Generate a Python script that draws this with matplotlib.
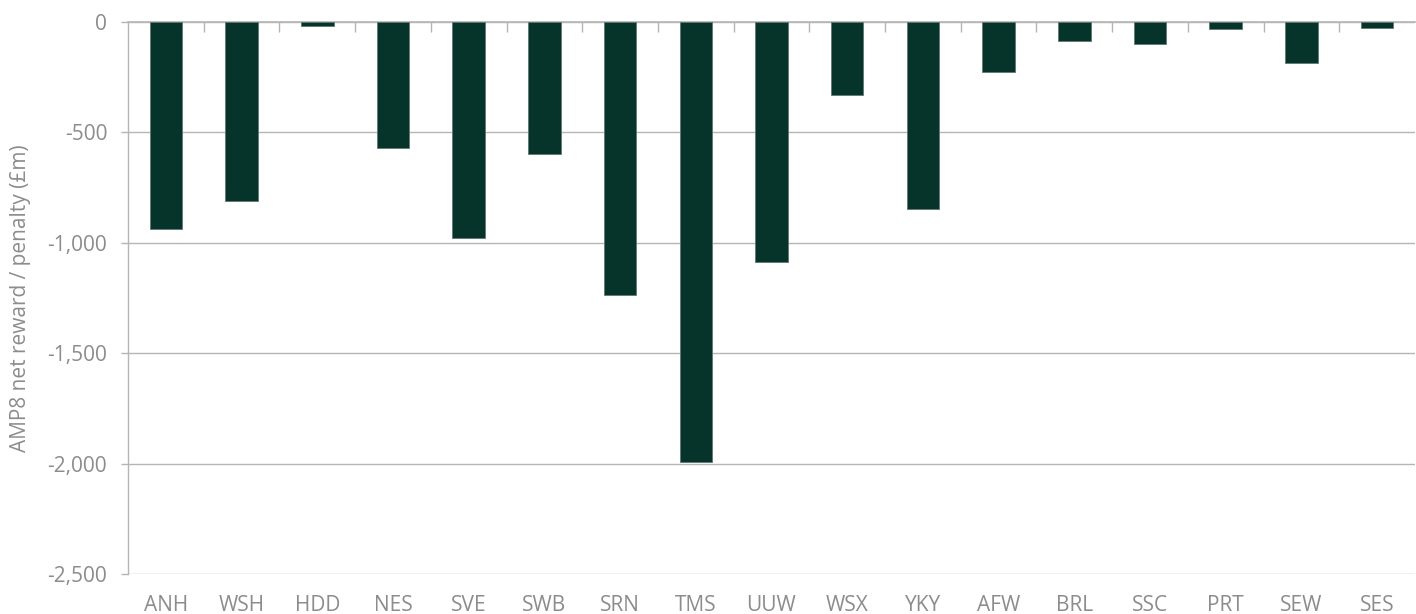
import matplotlib
matplotlib.use("Agg")
import matplotlib.pyplot as plt
from matplotlib.ticker import FuncFormatter, MultipleLocator, FixedLocator
import numpy as np

companies = ["ANH", "WSH", "HDD", "NES", "SVE", "SWB", "SRN", "TMS", "UUW",
             "WSX", "YKY", "AFW", "BRL", "SSC", "PRT", "SEW", "SES"]
net_reward = [-936, -812, -18, -571, -980, -598, -1238, -1995, -1087,
              -331, -847, -225, -85, -100, -30, -186, -27]

plt.rcParams['font.family'] = ['Open Sans', 'DejaVu Sans']
text_col = "#8c8c8c"
grid_col = "#b5b5b5"
bar_col = "#06332a"

fig = plt.figure(figsize=(14.16, 6.14), dpi=100)
ax = fig.add_axes([128/1416, 1-574/614, (1415-128)/1416, (574-22)/614])

x = np.arange(len(companies))
ax.bar(x, net_reward, width=0.43, color=bar_col, edgecolor="#5f7a72", linewidth=0.6, zorder=3)

ax.set_ylim(-2500, 0)
ax.set_xlim(-0.5, len(companies) - 0.5)
ax.yaxis.set_major_locator(MultipleLocator(500))
ax.yaxis.set_major_formatter(FuncFormatter(lambda v, p: f"{int(v):,}"))
ax.grid(axis='y', color=grid_col, linewidth=1.0, zorder=0)

ax.set_xticks(x)
ax.set_xticklabels(companies)
ax.xaxis.set_minor_locator(FixedLocator(np.arange(0.5, len(companies) - 0.5, 1)))
ax.tick_params(axis='x', which='major', length=0, pad=15, labelsize=15, labelcolor=text_col)
ax.tick_params(axis='x', which='minor', top=True, bottom=False, direction='in', length=7,
               color=grid_col, width=1.0)
ax.tick_params(axis='y', which='major', length=5, color=grid_col, width=1.0,
               labelsize=15, labelcolor=text_col, pad=10)

for s in ['right', 'bottom']:
    ax.spines[s].set_visible(False)
ax.spines['top'].set_color(grid_col)
ax.spines['top'].set_linewidth(1.2)
ax.spines['left'].set_color(grid_col)
ax.spines['left'].set_linewidth(1.0)

ax.set_ylabel("AMP8 net reward / penalty (£m)", fontsize=15, color=text_col, labelpad=12)

fig.savefig("out.png", dpi=100)
